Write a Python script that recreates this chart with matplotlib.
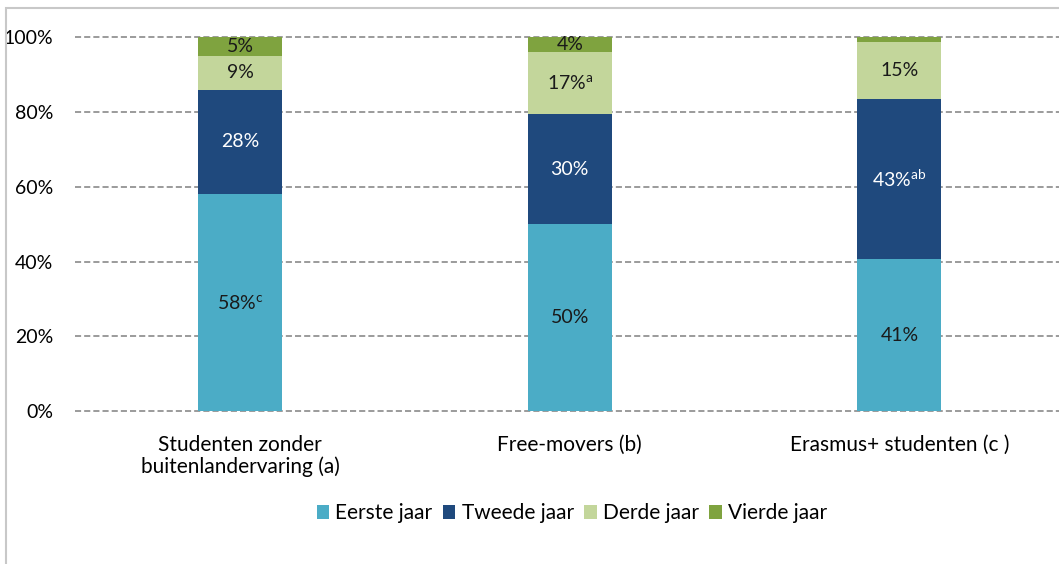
import matplotlib
matplotlib.use("Agg")
import matplotlib.pyplot as plt
from matplotlib.patches import Rectangle
import numpy as np

plt.rcParams['font.family'] = ['Lato', 'DejaVu Sans']
plt.rcParams['mathtext.default'] = 'regular'

categories = ["Studenten zonder\nbuitenlandervaring (a)", "Free-movers (b)", "Erasmus+ studenten (c )"]
series = ["Eerste jaar", "Tweede jaar", "Derde jaar", "Vierde jaar"]
eerste = [58, 50, 40.7]
tweede = [28, 29.5, 42.8]
derde = [9, 16.5, 15.2]
vierde = [5, 4, 1.3]
labels_eerste = ["58%$^{c}$", "50%", "41%"]
labels_tweede = ["28%", "30%", "43%$^{ab}$"]
labels_derde = ["9%", "17%$^{a}$", "15%"]
labels_vierde = ["5%", "4%", ""]
yticks = [0, 20, 40, 60, 80, 100]

colors = ["#4BACC6", "#1F497D", "#C3D69B", "#7FA33F"]
text_colors = ["#1a1a1a", "white", "#1a1a1a", "#1a1a1a"]

fig = plt.figure(figsize=(10.59, 5.64), dpi=100)
ax = fig.add_axes([0.071, 0.271, 0.934, 0.663])

x = np.arange(len(categories))
data = [eerste, tweede, derde, vierde]
labs = [labels_eerste, labels_tweede, labels_derde, labels_vierde]
bottom = np.zeros(len(categories))
for vals, col, name, lab, tc in zip(data, colors, series, labs, text_colors):
    vals = np.array(vals, dtype=float)
    ax.bar(x, vals, bottom=bottom, width=0.255, color=col, label=name, zorder=3)
    for xi, b, v, l in zip(x, bottom, vals, lab):
        if l:
            ax.text(xi, b + v / 2, l, ha='center', va='center', color=tc, fontsize=14, zorder=4)
    bottom += vals

for t in yticks:
    ax.axhline(t, linestyle=(0, (4, 2)), color='#808080', linewidth=1.1, zorder=1, clip_on=False)

ax.set_xlim(-0.5, 2.5)
ax.set_ylim(0, 100)
ax.set_yticks(yticks)
ax.set_yticklabels([f"{t}%" for t in yticks], fontsize=14)
ax.set_xticks(x)
ax.set_xticklabels(categories, fontsize=15, linespacing=1.1)
ax.tick_params(axis='both', length=0)
ax.tick_params(axis='y', pad=16)
ax.tick_params(axis='x', pad=17)
for s in ax.spines.values():
    s.set_visible(False)

fig.legend(loc='center', bbox_to_anchor=(0.54, 0.09), ncol=4, frameon=False, fontsize=15,
           handlelength=0.6, handleheight=0.6, handletextpad=0.3, columnspacing=0.5)

fig.patches.append(Rectangle((0.006, -0.05), 1.1, 1.036, transform=fig.transFigure,
                             fill=False, edgecolor='#c8c8c8', linewidth=1.5))

fig.savefig("out.png", dpi=100)
